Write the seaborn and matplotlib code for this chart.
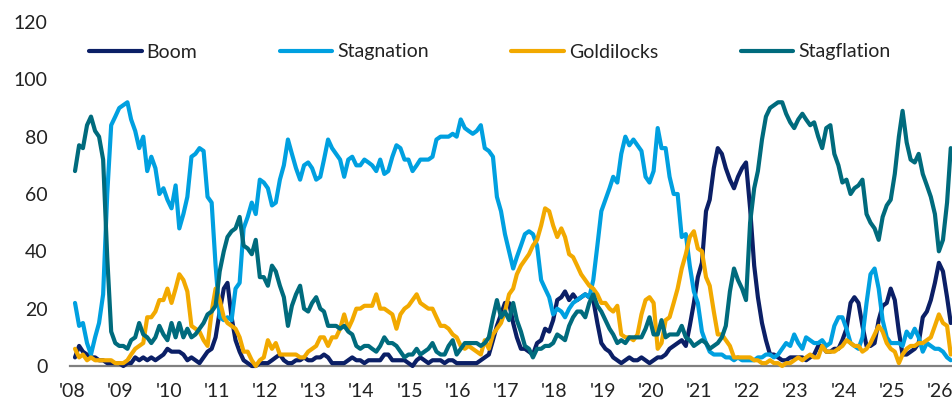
import numpy as np
import pandas as pd
import matplotlib
matplotlib.use("Agg")
import matplotlib.pyplot as plt
import seaborn as sns

# monthly readings, Jan 2008 .. Mar 2026 (one row per year)
boom = [
    3, 7, 5, 4, 3, 3, 2, 2, 1, 1, 1, 1,
    0, 1, 1, 3, 2, 3, 2, 3, 2, 3, 4, 6,
    5, 5, 5, 4, 2, 3, 2, 1, 3, 5, 6, 10,
    19, 27, 29, 17, 9, 5, 2, 1, 0, 0, 1, 1,
    1, 2, 3, 4, 2, 1, 1, 2, 2, 3, 2, 2,
    3, 3, 4, 3, 1, 1, 1, 1, 2, 3, 2, 2,
    1, 2, 2, 2, 2, 4, 4, 2, 2, 2, 2, 1,
    0, 2, 3, 2, 1, 2, 2, 2, 1, 2, 2, 1,
    1, 1, 1, 1, 1, 2, 3, 4, 9, 14, 18, 22,
    22, 15, 10, 6, 6, 5, 4, 8, 9, 13, 12, 16,
    23, 24, 26, 23, 25, 23, 24, 25, 24, 23, 15, 8,
    6, 5, 3, 2, 1, 2, 3, 2, 2, 3, 2, 1,
    2, 3, 3, 4, 6, 7, 8, 9, 7, 14, 22, 31,
    36, 54, 58, 69, 76, 74, 69, 65, 62, 66, 69, 71,
    55, 35, 24, 15, 9, 4, 4, 3, 2, 2, 3, 3,
    3, 3, 2, 3, 4, 7, 7, 5, 5, 6, 6, 9,
    13, 22, 24, 22, 14, 7, 7, 8, 16, 21, 22, 27,
    23, 12, 4, 4, 5, 6, 8, 17, 19, 23, 29, 36,
    33, 24, 15,
]

stagnation = [
    22, 14, 15, 8, 4, 10, 15, 25, 60, 84, 87, 90,
    91, 92, 86, 82, 76, 80, 68, 73, 69, 60, 62, 58,
    55, 63, 48, 53, 59, 73, 74, 76, 75, 59, 57, 35,
    17, 16, 17, 16, 27, 29, 48, 52, 57, 53, 65, 64,
    62, 56, 57, 65, 70, 79, 74, 69, 65, 70, 71, 69,
    65, 66, 72, 79, 76, 74, 72, 66, 72, 73, 70, 70,
    72, 71, 70, 68, 72, 67, 68, 73, 77, 76, 72, 72,
    68, 70, 72, 72, 72, 73, 79, 80, 80, 80, 81, 80,
    86, 83, 82, 81, 82, 84, 76, 75, 73, 59, 54, 46,
    40, 34, 38, 42, 46, 47, 46, 42, 30, 27, 24, 18,
    20, 19, 17, 20, 22, 23, 24, 25, 24, 30, 42, 54,
    58, 62, 66, 64, 74, 80, 77, 79, 77, 75, 66, 64,
    68, 83, 76, 76, 66, 60, 60, 45, 46, 35, 26, 22,
    12, 8, 5, 4, 4, 4, 3, 3, 2, 3, 2, 2,
    2, 2, 3, 3, 4, 4, 3, 4, 6, 8, 7, 11,
    8, 6, 10, 9, 8, 8, 9, 7, 8, 14, 17, 17,
    13, 8, 7, 6, 10, 22, 32, 34, 27, 16, 10, 8,
    8, 8, 7, 12, 10, 13, 10, 5, 8, 7, 6, 6,
    5, 3, 2,
]

goldilocks = [
    6, 3, 4, 2, 3, 2, 2, 2, 2, 2, 1, 1,
    1, 2, 4, 6, 7, 8, 17, 17, 19, 23, 23, 27,
    22, 27, 32, 30, 26, 14, 13, 12, 9, 7, 19, 27,
    23, 17, 15, 14, 13, 10, 5, 5, 2, 0, 2, 3,
    9, 6, 8, 4, 4, 4, 4, 4, 3, 3, 5, 6,
    7, 10, 10, 7, 10, 10, 13, 18, 13, 16, 20, 20,
    21, 21, 21, 25, 20, 20, 19, 18, 13, 18, 20, 21,
    23, 25, 22, 21, 20, 20, 17, 14, 14, 13, 11, 10,
    7, 6, 7, 6, 5, 4, 9, 6, 11, 13, 15, 19,
    25, 27, 32, 35, 37, 39, 42, 44, 49, 55, 54, 49,
    45, 48, 45, 39, 38, 35, 32, 30, 28, 27, 25, 22,
    22, 20, 19, 21, 11, 10, 10, 9, 11, 18, 23, 24,
    22, 6, 8, 16, 17, 22, 27, 34, 39, 45, 47, 41,
    40, 31, 28, 19, 11, 11, 9, 7, 3, 3, 3, 3,
    3, 2, 2, 1, 1, 2, 1, 1, 0, 1, 1, 2,
    3, 2, 3, 4, 3, 3, 7, 5, 5, 5, 6, 7,
    9, 8, 7, 7, 5, 6, 8, 11, 14, 12, 8, 6,
    5, 1, 4, 6, 7, 7, 8, 8, 9, 10, 14, 18,
    15, 14, 4,
]

stagflation = [
    68, 77, 76, 84, 87, 82, 80, 72, 38, 12, 8, 7,
    7, 6, 9, 10, 15, 11, 10, 8, 10, 14, 11, 9,
    15, 10, 15, 10, 13, 10, 11, 13, 15, 18, 19, 21,
    33, 40, 45, 47, 48, 52, 42, 41, 39, 44, 31, 31,
    28, 35, 33, 28, 24, 14, 21, 25, 28, 20, 19, 22,
    24, 20, 19, 14, 14, 14, 13, 14, 12, 11, 7, 6,
    7, 7, 6, 5, 7, 10, 8, 8, 7, 5, 3, 4,
    4, 6, 4, 5, 6, 8, 5, 4, 4, 7, 9, 4,
    6, 8, 8, 8, 8, 7, 8, 10, 17, 23, 17, 19,
    16, 22, 16, 12, 7, 6, 3, 6, 6, 7, 7, 8,
    11, 10, 9, 14, 17, 19, 19, 17, 22, 25, 21, 19,
    16, 13, 11, 8, 9, 8, 10, 10, 10, 10, 13, 17,
    11, 11, 16, 10, 11, 11, 11, 14, 10, 9, 7, 8,
    9, 8, 6, 7, 8, 10, 14, 26, 34, 30, 27, 23,
    50, 62, 68, 79, 87, 90, 91, 92, 92, 88, 85, 83,
    86, 88, 86, 84, 85, 80, 76, 83, 84, 74, 70, 64,
    65, 60, 62, 63, 65, 53, 50, 48, 44, 52, 56, 58,
    67, 80, 89, 78, 72, 71, 74, 67, 63, 59, 53, 40,
    44, 57, 76,
]

regimes = ["Boom", "Stagnation", "Goldilocks", "Stagflation"]
colors = ["#0b1f66", "#00a0e0", "#f2a900", "#006b7d"]
years = list(range(2008, 2027))
year_labels = ["'%02d" % (y % 100) for y in years]
y_ticks = [0, 20, 40, 60, 80, 100, 120]

months = pd.date_range("2008-01-01", periods=len(boom), freq="MS")
wide = pd.DataFrame({"date": months, "Boom": boom, "Stagnation": stagnation,
                     "Goldilocks": goldilocks, "Stagflation": stagflation})
df = wide.melt(id_vars="date", var_name="regime", value_name="pct")

sns.set_style("white")
plt.rcParams["font.family"] = ["Lato", "DejaVu Sans"]
text_color = "#222222"

fig = plt.figure(figsize=(9.53, 4.07), dpi=100)
ax = fig.add_axes([70 / 953, 41 / 407, 883 / 953, 344 / 407])

sns.lineplot(data=df, x="date", y="pct", hue="regime", hue_order=regimes,
             palette=dict(zip(regimes, colors)), linewidth=3, ax=ax,
             zorder=3, clip_on=False)

ax.set_ylim(0, 120)
ax.set_yticks(y_ticks)
ax.set_xlim(pd.Timestamp("2007-11-24"), pd.Timestamp("2026-03-18"))
# year labels sit a little before each January
tick_pos = [pd.Timestamp(f"{y}-01-01") - pd.Timedelta(days=22) for y in years]
ax.set_xticks(tick_pos)
ax.set_xticklabels(year_labels)
ax.set_xlabel("")
ax.set_ylabel("")
ax.tick_params(axis="y", length=0, pad=16, labelsize=14, labelcolor=text_color)
ax.tick_params(axis="x", length=0, pad=12, labelsize=14, labelcolor=text_color)

for side in ["top", "right", "left"]:
    ax.spines[side].set_visible(False)
ax.spines["bottom"].set_color("#808080")
ax.spines["bottom"].set_linewidth(1.6)

handles, labels = ax.get_legend_handles_labels()
ax.legend(handles, labels, ncol=4, loc="center left",
          bbox_to_anchor=(89 / 953, 1 - 52 / 407), bbox_transform=fig.transFigure,
          frameon=False, fontsize=14, handlelength=2.7, handletextpad=0.25,
          columnspacing=4.25, borderpad=0, borderaxespad=0, labelcolor=text_color)

fig.savefig("out.png", dpi=100)
